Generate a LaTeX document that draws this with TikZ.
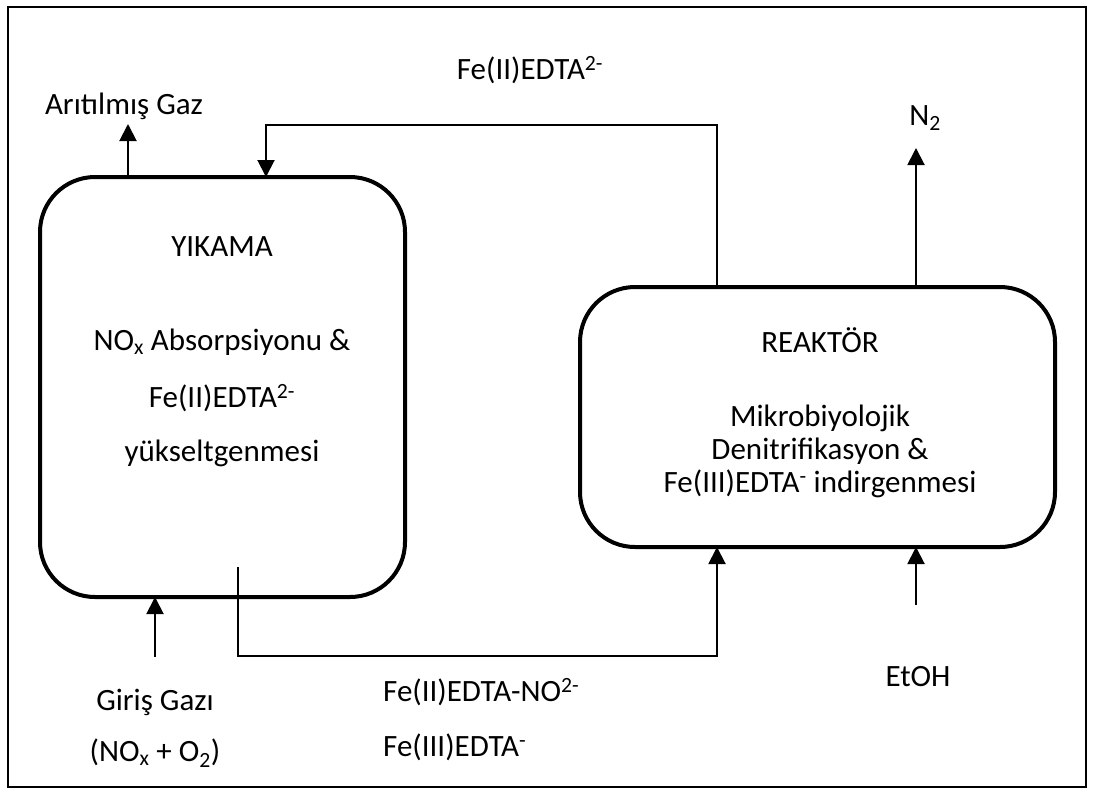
\documentclass[tikz,border=0pt]{standalone}
\usepackage{fontspec}
\setmainfont{Carlito}
\usetikzlibrary{arrows.meta}
\begin{document}
\begin{tikzpicture}[x=1pt,y=-1pt,
  box/.style={draw,line width=4pt,rounded corners=55pt},
  conn/.style={line width=2pt},
  arr/.style={conn,-{Triangle[width=17pt,length=17pt]}},
  lbl/.style={font=\fontsize{31}{36}\selectfont,inner sep=0pt},
]
\useasboundingbox (0,0) rectangle (1094,796);
\draw[line width=1.2pt] (8,7) rectangle (1086,787);
% boxes
\draw[box] (40,177) rectangle (405,597);
\draw[box] (580,287) rectangle (1055,547);
\coordinate (Ltop1) at (128,177);
\coordinate (Ltop2) at (266,177);
\coordinate (Lbot1) at (155,597);
\coordinate (Lbot2) at (238,567);
\coordinate (Rtop1) at (717,287);
\coordinate (Rtop2) at (916,287);
\coordinate (Rbot1) at (717,547);
\coordinate (Rbot2) at (916,547);
\coordinate (outgas) at (128,124);
\coordinate (n2) at (916,148);
\coordinate (ingas) at (155,657);
\coordinate (etoh) at (916,605);
% labels inside boxes
\node[lbl] (yik) at (222,247) {YIKAMA};
\node[lbl] (l1) at (222,342) {NO\textsubscript{x} Absorpsiyonu \&};
\node[lbl] (l2) at (222,398) {Fe(II)EDTA\textsuperscript{2-}};
\node[lbl] (l3) at (222,453) {yükseltgenmesi};
\node[lbl] (rea) at (820,340) {REAKTÖR};
\node[lbl] (r1) at (820,418) {Mikrobiyolojik};
\node[lbl] (r2) at (820,451) {Denitrifikasyon \&};
\node[lbl] (r3) at (820,484) {Fe(III)EDTA\textsuperscript{-} indirgenmesi};
% outside labels
\node[lbl] (tgas) at (124,106) {Arıtılmış Gaz};
\node[lbl] (tfe2) at (530,70) {Fe(II)EDTA\textsuperscript{2-}};
\node[lbl] (tn2) at (925,118) {N\textsubscript{2}};
\node[lbl] (tgir) at (155,702) {Giriş Gazı};
\node[lbl] (tnox) at (155,753) {(NO\textsubscript{x} + O\textsubscript{2})};
\node[lbl,anchor=west] (tfeno) at (383,692) {Fe(II)EDTA-NO\textsuperscript{2-}};
\node[lbl,anchor=west] (tfe3) at (383,747) {Fe(III)EDTA\textsuperscript{-}};
\node[lbl] (tetoh) at (918,677) {EtOH};
% connectors
\draw[arr] (Ltop1) -- (outgas);
\draw[arr] (Rtop1) -- (717,125) -- (266,125) -- (Ltop2);
\draw[arr] (Rtop2) -- (n2);
\draw[arr] (ingas) -- (Lbot1);
\draw[arr] (Lbot2) -- (238,656) -- (717,656) -- (Rbot1);
\draw[arr] (etoh) -- (Rbot2);
\end{tikzpicture}
\end{document}
